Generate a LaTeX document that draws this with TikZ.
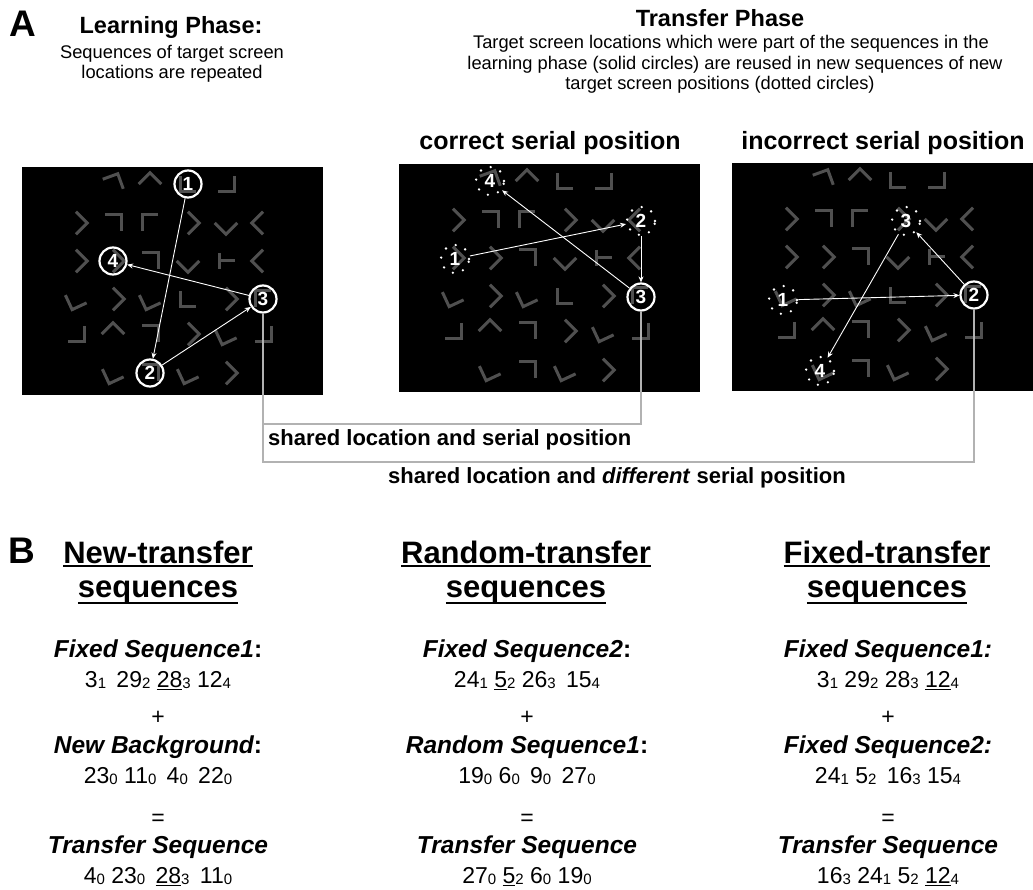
\documentclass[tikz,border=0pt]{standalone}
\usepackage{fontspec}
\setmainfont{Liberation Sans}
\usetikzlibrary{arrows.meta}
\definecolor{gl}{RGB}{80,80,80}
\definecolor{cn}{RGB}{178,178,178}
\newcommand\fs[1]{\fontsize{#1}{#1}\selectfont}
\newcommand\sbs[1]{\raisebox{-1.5pt}{\fs{15}#1}}
\newcommand\ulx[3]{\leavevmode\setbox0\hbox{#3}\rlap{\rule[-#1]{\wd0}{#2}}\box0}
\newcommand\un[1]{\ulx{3pt}{1.5pt}{#1}}
\newcommand\bgl[2]{%
  \foreach \gc/\gr/\ga in {2/1/200,3/1/225,4/1/0,5/1/90,
    1/2/135,2/2/180,3/2/270,4/2/135,5/2/45,6/2/315,
    1/3/135,2/3/135,3/3/180,4/3/45,6/3/315,
    1/4/25,2/4/135,3/4/25,4/4/0,5/4/135,6/4/270,
    1/5/90,2/5/225,3/5/180,4/5/135,5/5/25,6/5/90,
    2/6/25,3/6/180,4/6/25,5/6/135}{%
    \pgfmathsetmacro\gx{#1+{0,54,91,128,166,204,241}[\gc]}%
    \pgfmathsetmacro\gy{-#2-{0,17,56,94,132,167,206}[\gr]}%
    \draw[glyph,shift={(\gx,\gy)},rotate=\ga] (8,-8) -- (-8,-8) -- (-8,8);
  }%
  \pgfmathsetmacro\gx{#1+204}\pgfmathsetmacro\gy{-#2-94}%
  \draw[glyph,shift={(\gx,\gy)}] (-7,8) -- (-7,-8) (-7,0) -- (9,0);
}
\begin{document}
\begin{tikzpicture}[x=1pt,y=1pt,
  glyph/.style={draw=gl,line width=3pt},
  panel/.style={anchor=north west,fill=black,draw=none,minimum width=301pt,minimum height=228pt,inner sep=0pt},
  tgt/.style={circle,draw=white,line width=2.2pt,minimum size=27pt,inner sep=0pt,text=white,font=\fs{19}\bfseries},
  dtgt/.style={circle,draw=white,line width=2.6pt,dash pattern=on 0pt off 10.6pt,line cap=round,minimum size=28pt,inner sep=0pt,text=white,font=\fs{19}\bfseries},
  ar/.style={draw=white,line width=0.9pt,-{Stealth[length=6pt,width=5pt]}},
  conn/.style={draw=cn,line width=2pt},
  big/.style={font=\fs{37}\bfseries,inner sep=0pt,anchor=base west},
  ttl/.style={font=\fs{23.5}\bfseries,inner sep=0pt,anchor=base},
  txt/.style={font=\fs{18.3},inner sep=0pt,anchor=base},
  ptl/.style={font=\fs{25}\bfseries,inner sep=0pt,anchor=base},
  shl/.style={font=\fs{22}\bfseries,inner sep=0pt},
  bh/.style={font=\fs{31}\bfseries,inner sep=0pt,anchor=base},
  bl/.style={font=\fs{24.5}\bfseries\itshape,inner sep=0pt,anchor=base},
  bn/.style={font=\fs{23},inner sep=0pt,anchor=base}]
\useasboundingbox (0,0) rectangle (1033,-890);
\fill[white] (0,0) rectangle (1033,-890);

% ---------- headings A ----------
\node[big] (A) at (9,-37) {A};
\node[ttl] (lp) at (171,-34) {Learning Phase:};
\node[txt] (lp1) at (172,-59) {Sequences of target screen};
\node[txt] (lp2) at (172,-79) {locations are repeated};
\node[ttl] (tp) at (720,-27) {Transfer Phase};
\node[txt] (tp1) at (731,-49) {Target screen locations which were part of the sequences in the};
\node[txt] (tp2) at (735,-70) {learning phase (solid circles) are reused in new sequences of new};
\node[txt] (tp3) at (720,-90) {target screen positions (dotted circles)};
\node[ptl] (t2) at (550,-150) {correct serial position};
\node[ptl] (t3) at (883,-150) {incorrect serial position};

% ---------- panels ----------
\node[panel] (P1) at (22,-167) {};
\node[panel] (P2) at (399,-164) {};
\node[panel] (P3) at (732,-163) {};
\bgl{22}{167}
\bgl{399}{164}
\bgl{732}{163}

% ---------- targets ----------
\node[tgt] (a1) at (188,-184) {1};
\node[tgt] (a2) at (150,-373) {2};
\node[tgt] (a3) at (263,-299) {3};
\node[tgt] (a4) at (113,-261) {4};

\node[dtgt] (b1) at (455,-259) {1};
\node[dtgt] (b2) at (641,-221) {2};
\node[tgt] (b3) at (641,-297) {3};
\node[dtgt] (b4) at (490,-181) {4};

\node[dtgt] (c1) at (783,-300) {1};
\node[tgt] (c2) at (974,-295) {2};
\node[dtgt] (c3) at (906,-221) {3};
\node[dtgt] (c4) at (820,-371) {4};

% ---------- gray connectors ----------
\coordinate (j1) at (0,-424);
\coordinate (j2) at (0,-462);
\draw[conn] (a3.south) -- (a3.south |- j2) -| (c2.south);
\draw[conn] (a3.south |- j1) -| (b3.south);

% ---------- sequence arrows ----------
\draw[ar] (a1) -- (a2);
\draw[ar] (a2) -- (a3);
\draw[ar] (a3) -- (a4);
\draw[ar] (b1) -- (b2);
\draw[ar] (b2) -- (b3);
\draw[ar] (b3) -- (b4);
\draw[ar] (c1) -- (c2);
\draw[ar] (c2) -- (c3);
\draw[ar] (c3) -- (c4);

\node[shl,anchor=base west] (s1) at (268,-445) {shared location and serial position};
\node[shl,anchor=base] (s2) at (617,-483) {shared location and \textit{different} serial position};

% ---------- B ----------
\node[big] (B) at (8,-563) {B};

% column 1
\node[bh] (h1a) at (158,-563) {\ulx{4pt}{2pt}{New-transfer}};
\node[bh] (h1b) at (158,-597) {\ulx{7pt}{2pt}{sequences}};
\node[bl] (l1a) at (158,-657) {Fixed Sequence1{\upshape:}};
\node[bn] (n1a) at (158,-687) {3\sbs{1}\hspace{0.45em}29\sbs{2} \un{28}\sbs{3} 12\sbs{4}};
\node[bn] (p1) at (158,-724) {+};
\node[bl] (l1b) at (158,-753) {New Background{\upshape:}};
\node[bn] (n1b) at (158,-783) {23\sbs{0} 11\sbs{0}\hspace{0.45em}4\sbs{0}\hspace{0.45em}22\sbs{0}};
\node[bn] (e1) at (158,-825) {=};
\node[bl] (l1c) at (158,-853) {Transfer Sequence};
\node[bn] (n1c) at (158,-883) {4\sbs{0} 23\sbs{0}\hspace{0.45em}\un{28}\sbs{3}\hspace{0.45em}11\sbs{0}};

% column 2
\node[bh] (h2a) at (526,-563) {\ulx{4pt}{2pt}{Random-transfer}};
\node[bh] (h2b) at (526,-597) {\ulx{7pt}{2pt}{sequences}};
\node[bl] (l2a) at (527,-657) {Fixed Sequence2{\upshape:}};
\node[bn] (n2a) at (527,-687) {24\sbs{1} \un{5}\sbs{2} 26\sbs{3}\hspace{0.45em}15\sbs{4}};
\node[bn] (p2) at (527,-724) {+};
\node[bl] (l2b) at (527,-753) {Random Sequence1{\upshape:}};
\node[bn] (n2b) at (527,-783) {19\sbs{0} 6\sbs{0}\hspace{0.45em}9\sbs{0}\hspace{0.45em}27\sbs{0}};
\node[bn] (e2) at (527,-825) {=};
\node[bl] (l2c) at (527,-853) {Transfer Sequence};
\node[bn] (n2c) at (527,-883) {27\sbs{0} \un{5}\sbs{2} 6\sbs{0} 19\sbs{0}};

% column 3
\node[bh] (h3a) at (887,-563) {\ulx{4pt}{2pt}{Fixed-transfer}};
\node[bh] (h3b) at (887,-597) {\ulx{7pt}{2pt}{sequences}};
\node[bl] (l3a) at (888,-657) {Fixed Sequence1:};
\node[bn] (n3a) at (888,-687) {3\sbs{1} 29\sbs{2} 28\sbs{3} \un{12}\sbs{4}};
\node[bn] (p3) at (888,-724) {+};
\node[bl] (l3b) at (888,-753) {Fixed Sequence2:};
\node[bn] (n3b) at (888,-783) {24\sbs{1} 5\sbs{2}\hspace{0.45em}16\sbs{3} 15\sbs{4}};
\node[bn] (e3) at (888,-825) {=};
\node[bl] (l3c) at (888,-853) {Transfer Sequence};
\node[bn] (n3c) at (888,-883) {16\sbs{3} 24\sbs{1} 5\sbs{2} \un{12}\sbs{4}};
\end{tikzpicture}
\end{document}
